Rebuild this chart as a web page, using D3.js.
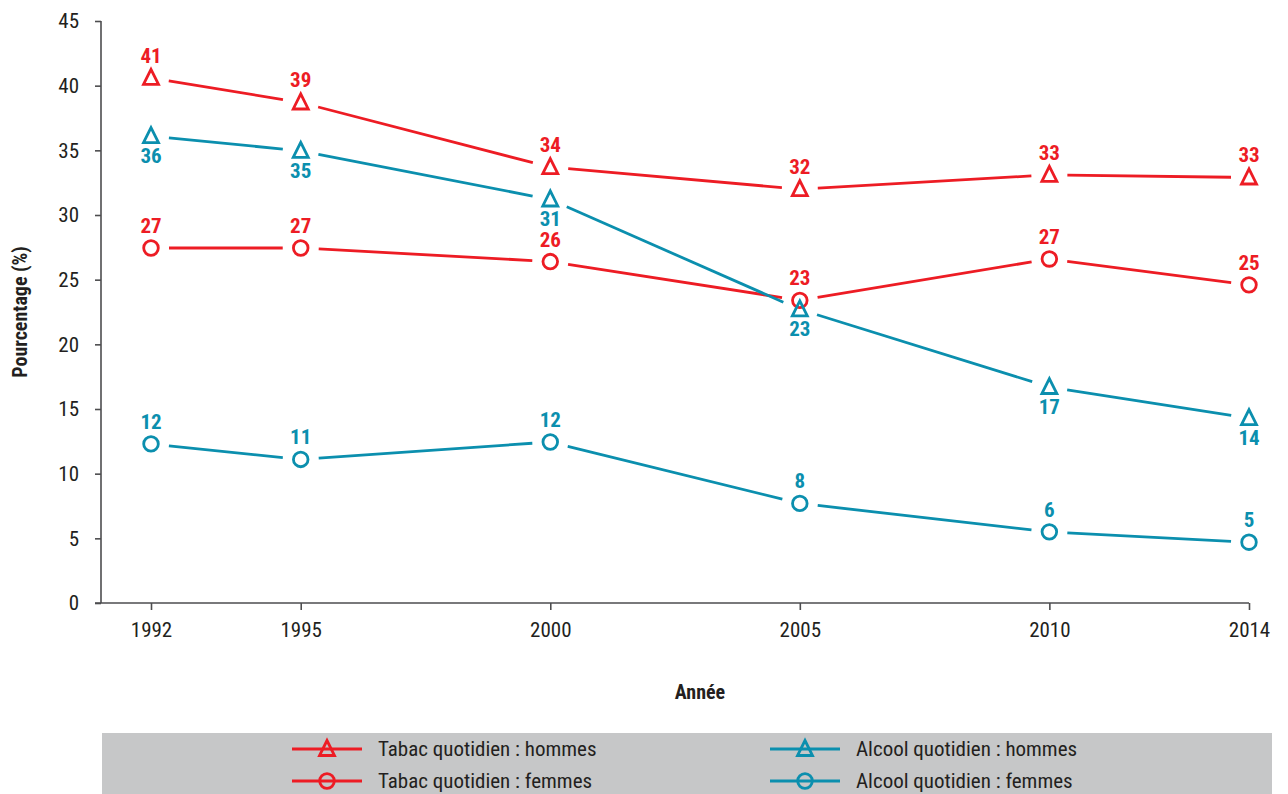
<!DOCTYPE html>
<html>
<head>
<meta charset="utf-8">
<style>
  body { margin: 0; background: #fff; }
  svg { display: block; font-family: "Roboto Condensed", "Roboto", sans-serif; font-stretch: condensed; }
  .axis text { font-size: 21px; fill: #231f20; font-family: "Roboto Condensed", "Roboto", sans-serif; }
  .axis line, .axis path { stroke: #4d4d4f; stroke-width: 1.6; }
</style>
</head>
<body>
<svg width="1288" height="794"></svg>
<script src="https://d3js.org/d3.v7.min.js"></script>
<script>
// data
const years = [1992, 1995, 2000, 2005, 2010, 2014];
const tabacHommes = [40.6, 38.7, 33.7, 32.0, 33.1, 32.9];
const tabacFemmes = [27.45, 27.45, 26.4, 23.4, 26.6, 24.6];
const alcoolHommes = [36.1, 34.96, 31.2, 22.7, 16.7, 14.3];
const alcoolFemmes = [12.3, 11.1, 12.45, 7.7, 5.5, 4.7];
const yTicks = [0, 5, 10, 15, 20, 25, 30, 35, 40, 45];

const red = "#ed1c24";
const teal = "#0b8fae";

const series = [
  {name: "Tabac quotidien : hommes", values: tabacHommes, color: red, shape: "tri", label: "above"},
  {name: "Tabac quotidien : femmes", values: tabacFemmes, color: red, shape: "circ", label: "above"},
  {name: "Alcool quotidien : hommes", values: alcoolHommes, color: teal, shape: "tri", label: "below"},
  {name: "Alcool quotidien : femmes", values: alcoolFemmes, color: teal, shape: "circ", label: "above"}
];

const svg = d3.select("svg");

const x = d3.scaleLinear().domain([1992, 2014]).range([151, 1249]);
const y = d3.scaleLinear().domain([0, 45]).range([603, 21]);

// y axis
const gy = svg.append("g").attr("class", "axis").attr("transform", "translate(101,0)")
  .call(d3.axisLeft(y).tickValues(yTicks).tickSize(6).tickSizeOuter(0).tickPadding(16));
gy.select(".domain").remove();
gy.append("line").attr("x1", 0).attr("x2", 0).attr("y1", y(45)).attr("y2", y(0));

// x axis
const gx = svg.append("g").attr("class", "axis").attr("transform", "translate(0,603)")
  .call(d3.axisBottom(x).tickValues(years).tickFormat(d3.format("d")).tickSize(7).tickPadding(12));
gx.select(".domain").remove();
gx.append("line").attr("x1", 95).attr("x2", x(2014)).attr("y1", 0).attr("y2", 0);

svg.append("text").attr("transform", "translate(27,312) rotate(-90)")
  .attr("text-anchor", "middle").style("font-size", "20px").style("font-weight", "bold")
  .attr("fill", "#231f20").text("Pourcentage (%)");
svg.append("text").attr("x", 700).attr("y", 699)
  .attr("text-anchor", "middle").style("font-size", "20px").style("font-weight", "bold")
  .attr("fill", "#231f20").text("Année");

function marker(g, shape, cx, cy, color) {
  if (shape === "tri") {
    const s = 7.5;
    g.append("path")
      .attr("d", `M${cx},${cy - s - 1}L${cx + s},${cy + s - 1}L${cx - s},${cy + s - 1}Z`)
      .attr("fill", "none").attr("stroke", color).attr("stroke-width", 2.8).attr("stroke-linejoin", "miter");
  } else {
    g.append("circle").attr("cx", cx).attr("cy", cy).attr("r", 7.3)
      .attr("fill", "none").attr("stroke", color).attr("stroke-width", 2.8);
  }
}

const gap = 18;
series.forEach(s => {
  const g = svg.append("g");
  const pts = years.map((yr, i) => [x(yr), y(s.values[i])]);
  for (let i = 0; i < pts.length - 1; i++) {
    const [x1, y1] = pts[i], [x2, y2] = pts[i + 1];
    const len = Math.hypot(x2 - x1, y2 - y1);
    const ux = (x2 - x1) / len, uy = (y2 - y1) / len;
    g.append("line")
      .attr("x1", x1 + ux * gap).attr("y1", y1 + uy * gap)
      .attr("x2", x2 - ux * gap).attr("y2", y2 - uy * gap)
      .attr("stroke", s.color).attr("stroke-width", 2.8);
  }
  pts.forEach((p, i) => {
    marker(g, s.shape, p[0], p[1], s.color);
    g.append("text")
      .attr("x", p[0]).attr("y", s.label === "above" ? p[1] - 15 : p[1] + 27)
      .attr("text-anchor", "middle").style("font-size", "21px").style("font-weight", "bold")
      .attr("fill", s.color).text(Math.round(s.values[i]));
  });
});

// legend
svg.append("rect").attr("x", 102).attr("y", 733).attr("width", 1170).attr("height", 61).attr("fill", "#c6c7c8");
const legendPos = [[292, 749], [292, 781], [770, 749], [770, 781]];
series.forEach((s, i) => {
  const [lx, ly] = legendPos[i];
  const g = svg.append("g");
  g.append("line").attr("x1", lx).attr("x2", lx + 70).attr("y1", ly).attr("y2", ly)
    .attr("stroke", s.color).attr("stroke-width", 2.8);
  marker(g, s.shape, lx + 35, ly, s.color);
  g.append("text").attr("x", lx + 86).attr("y", ly + 7).style("font-size", "21px")
    .attr("fill", "#231f20").text(s.name);
});
</script>
</body>
</html>
